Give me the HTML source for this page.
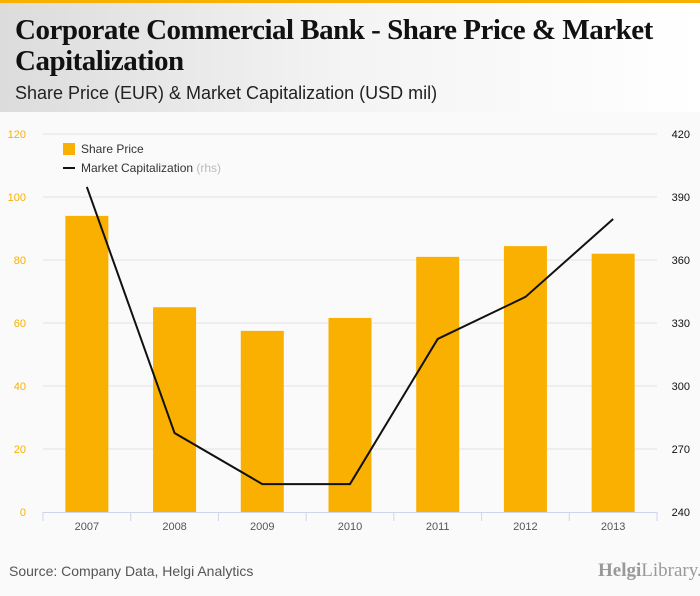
<!DOCTYPE html>
<html><head><meta charset="utf-8"><style>
body{margin:0;width:700px;height:596px;overflow:hidden;background:#fafafa;font-family:"Liberation Sans",sans-serif;}
#hdr{position:absolute;left:0;top:0;width:700px;height:112px;background:linear-gradient(90deg,#dcdcdc,#f4f4f4 50%,#fff);border-top:3px solid #f9b000;box-sizing:border-box;}
#title{position:absolute;left:15px;top:12px;font-family:"Liberation Serif",serif;font-size:29px;line-height:31px;color:#111;font-weight:bold;letter-spacing:-0.5px;}
#sub{position:absolute;left:15px;top:80px;font-size:18px;color:#222;}
#src{position:absolute;left:9px;top:563px;font-size:14px;color:#555;}
#logo{position:absolute;left:598px;top:560px;font-family:"Liberation Serif",serif;font-size:19px;color:#999;}
</style></head><body>
<div id="hdr">
<div id="title">Corporate Commercial Bank - Share Price &amp; Market Capitalization</div>
<div id="sub">Share Price (EUR) &amp; Market Capitalization (USD mil)</div>
</div>
<svg id="chart" width="700" height="596" style="position:absolute;left:0;top:0"></svg>
<div id="src">Source: Company Data, Helgi Analytics</div>
<div id="logo"><b>Helgi</b>Library.</div>
<script>
const categories=["2007","2008","2009","2010","2011","2012","2013"];
const sharePrice=[94,65,57.5,61.6,81,84.4,82];
const marketCap=[394.8,277.6,253.3,253.3,322.4,342.4,379.5];
const leftTicks=[0,20,40,60,80,100,120];
const rightTicks=[240,270,300,330,360,390,420];
const NS="http://www.w3.org/2000/svg";
const svg=document.getElementById('chart');
const X0=43,X1=657,Y0=512,Y1=134;
const bw=(X1-X0)/categories.length;
const xc=i=>X0+bw*(i+0.5);
const yL=v=>Y0-(v-0)/(120-0)*(Y0-Y1);
const yR=v=>Y0-(v-240)/(420-240)*(Y0-Y1);
function mk(t,a,txt){const e=document.createElementNS(NS,t);for(const k in a)e.setAttribute(k,a[k]);if(txt!=null)e.textContent=txt;svg.appendChild(e);return e;}
leftTicks.forEach((v,i)=>{
 if(i>0){const g=mk('line',{x1:X0,x2:X1,y1:yL(v),y2:yL(v),stroke:'#e3e3e3','stroke-width':1});
 
 }
 const t=mk('text',{x:26,y:yL(v)+4,'text-anchor':'end','font-size':11,fill:'#f9b000'},v);
 
 
});
rightTicks.forEach(v=>{
 const t=mk('text',{x:690,y:yR(v)+4,'text-anchor':'end','font-size':11,fill:'#111'},v);
 
 
});
categories.forEach((c,i)=>{
 const b=mk('rect',{x:xc(i)-21.5,y:yL(sharePrice[i]),width:43,height:Y0-yL(sharePrice[i]),fill:'#f9b000'});
 
 
 const t=mk('text',{x:xc(i),y:530,'text-anchor':'middle','font-size':11,fill:'#555'},c);
 
 
});
for(let i=0;i<=categories.length;i++){
 const tk=mk('line',{x1:X0+bw*i,x2:X0+bw*i,y1:Y0,y2:Y0+9,stroke:'#ccd6eb'});
 
 
}
const ax=mk('line',{x1:X0,x2:X1,y1:Y0+0.5,y2:Y0+0.5,stroke:'#ccd6eb'});


const pts=marketCap.map((v,i)=>xc(i)+','+yR(v)).join(' ');
const ln=mk('polyline',{points:pts,fill:'none',stroke:'#111','stroke-width':2});


const l1=mk('rect',{x:63,y:143,width:12,height:12,fill:'#f9b000'});


const t1=mk('text',{x:81,y:153,'font-size':12,fill:'#333'},'Share Price');


const l2=mk('line',{x1:63,x2:75,y1:168,y2:168,stroke:'#111','stroke-width':2});


const t2=mk('text',{x:81,y:172,'font-size':12,fill:'#333'},'Market Capitalization ');


const ts=document.createElementNS(NS,'tspan');ts.setAttribute('fill','#bbb');ts.textContent='(rhs)';t2.appendChild(ts);
</script>
</body></html>
